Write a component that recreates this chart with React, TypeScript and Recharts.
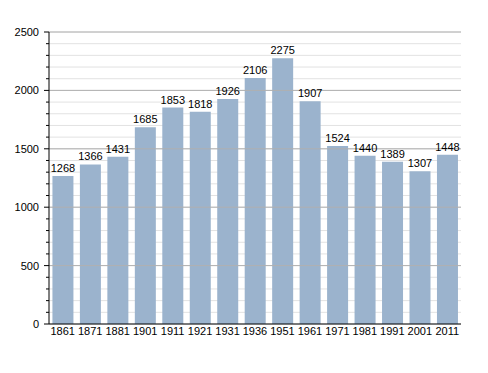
import React from "react";
import { BarChart, Bar, XAxis, YAxis, CartesianGrid, LabelList, ReferenceLine } from "recharts";

const years = ["1861", "1871", "1881", "1901", "1911", "1921", "1931", "1936", "1951", "1961", "1971", "1981", "1991", "2001", "2011"];
const population = [1268, 1366, 1431, 1685, 1853, 1818, 1926, 2106, 2275, 1907, 1524, 1440, 1389, 1307, 1448];
const yTicks = Array.from({ length: 26 }, (_, i) => i * 100);
const majorTicks = [500, 1000, 1500, 2000, 2500];

const data = years.map((y, i) => ({ year: y, value: population[i] }));
const FONT = "'Liberation Sans', Arial, sans-serif";

const YTick = (props: any) => {
  const { x, y, payload } = props;
  const major = payload.value % 500 === 0;
  return (
    <g>
      <line x1={x - (major ? 5 : 3)} x2={x} y1={y} y2={y} stroke="#000" strokeWidth={1} />
      {major && (
        <text x={x - 10} y={y} dy={4} textAnchor="end" fontSize={11} fill="#000" fontFamily={FONT}>
          {payload.value}
        </text>
      )}
    </g>
  );
};

export default function App() {
  return (
    <BarChart
      width={480}
      height={365}
      data={data}
      margin={{ top: 24, right: 27, left: 0, bottom: 29 }}
      barCategoryGap="12.5%"
    >
      <CartesianGrid vertical={false} stroke="#e2e2e2" strokeWidth={1} />
      {majorTicks.map((v) => (
        <ReferenceLine key={v} y={v} stroke="#b0b0b0" strokeWidth={1} />
      ))}
      <XAxis
        dataKey="year"
        height={20}
        tickLine={false}
        tickSize={3}
        axisLine={{ stroke: "#000" }}
        tick={{ fontSize: 11, fill: "#000", fontFamily: FONT }}
        tickMargin={0}
        interval={0}
      />
      <YAxis
        width={41}
        domain={[0, 2500]}
        ticks={yTicks}
        interval={0}
        tickLine={false}
        tickSize={0}
        tickMargin={0}
        axisLine={{ stroke: "#000" }}
        tick={<YTick />}
      />
      <Bar dataKey="value" fill="#9bb3cd" isAnimationActive={false}>
        <LabelList dataKey="value" position="top" offset={4} style={{ fontSize: 11, fill: "#000", fontFamily: FONT }} />
      </Bar>
    </BarChart>
  );
}
